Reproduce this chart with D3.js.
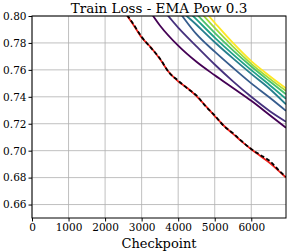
<!DOCTYPE html>
<html>
<head>
  <meta charset="utf-8">
  <title>Train Loss - EMA Pow 0.3</title>
<script src="https://d3js.org/d3.v7.min.js"></script>
  <style>
    body { margin: 0; background: #fff; }
    svg { font-family: "DejaVu Serif", serif; }
    .grid line { stroke: #b0b0b0; stroke-width: 0.8px; }
    .axis path, .axis line { stroke: #000; }
    .axis text { font-size: 10.5px; fill: #000; font-family: "DejaVu Serif", serif; }
  </style>
</head>
<body>
  <script>
    // checkpoints shared by every series
    const checkpoints = [2500, 2750, 3000, 3250, 3500, 3750, 4000, 4250, 4500, 4750,
                         5000, 5250, 5500, 5750, 6000, 6250, 6500, 6750, 6950];
    const redLoss   = [0.8040, 0.7945, 0.7840, 0.7768, 0.7680, 0.7582, 0.7515, 0.7465, 0.7405, 0.7333,
                       0.7257, 0.7185, 0.7125, 0.7065, 0.7010, 0.6960, 0.6910, 0.6850, 0.6800];
    const blackLoss = [0.8045, 0.7950, 0.7845, 0.7765, 0.7685, 0.7580, 0.7520, 0.7462, 0.7410, 0.7330,
                       0.7262, 0.7183, 0.7130, 0.7068, 0.7012, 0.6968, 0.6925, 0.6855, 0.6805];

    // viridis sweep, coarser checkpoints
    const sweepSteps = [3000, 3500, 4000, 4500, 5000, 5500, 6000, 6500, 6950];
    const sweepColors = ["#440154", "#46327e", "#365c8d", "#277f8e", "#1fa187", "#4ac16d", "#a0da39", "#fde725"];
    const sweep0 = [0.8130, 0.7930, 0.7780, 0.7660, 0.7560, 0.7465, 0.7370, 0.7265, 0.7170];
    const sweep1 = [0.8240, 0.8075, 0.7914, 0.7775, 0.7640, 0.7515, 0.7400, 0.7295, 0.7215];
    const sweep2 = [0.8400, 0.8220, 0.8040, 0.7865, 0.7735, 0.7615, 0.7500, 0.7395, 0.7296];
    const sweep3 = [0.8450, 0.8260, 0.8065, 0.7935, 0.7805, 0.7685, 0.7570, 0.7460, 0.7344];
    const sweep4 = [0.8500, 0.8300, 0.8110, 0.7975, 0.7840, 0.7715, 0.7598, 0.7488, 0.7385];
    const sweep5 = [0.8550, 0.8350, 0.8160, 0.8015, 0.7875, 0.7745, 0.7625, 0.7515, 0.7419];
    const sweep6 = [0.8600, 0.8400, 0.8210, 0.8060, 0.7912, 0.7773, 0.7645, 0.7535, 0.7444];
    const sweep7 = [0.8650, 0.8450, 0.8260, 0.8105, 0.7950, 0.7800, 0.7665, 0.7555, 0.7463];
    const sweeps = [sweep0, sweep1, sweep2, sweep3, sweep4, sweep5, sweep6, sweep7];

    const xTicks = [0, 1000, 2000, 3000, 4000, 5000, 6000];
    const yTicks = [0.66, 0.68, 0.70, 0.72, 0.74, 0.76, 0.78, 0.80];

    const margin = { top: 16, right: 3, bottom: 34, left: 32 };
    const width = 289 - margin.left - margin.right;
    const height = 252 - margin.top - margin.bottom;

    const x = d3.scaleLinear().domain([0, 6950]).range([0, width]);
    const y = d3.scaleLinear().domain([0.65, 0.80]).range([height, 0]);

    const svg = d3.select("body").append("svg")
        .attr("width", 289)
        .attr("height", 252);

    svg.append("text")
        .attr("x", margin.left + width / 2)
        .attr("y", 13)
        .attr("text-anchor", "middle")
        .style("font-size", "13.5px")
        .text("Train Loss - EMA Pow 0.3");

    const g = svg.append("g")
        .attr("transform", "translate(" + margin.left + "," + margin.top + ")");

    g.append("clipPath").attr("id", "clip")
      .append("rect").attr("width", width).attr("height", height);

    // grid
    const grid = g.append("g").attr("class", "grid");
    grid.selectAll(".vx").data(xTicks).enter().append("line")
        .attr("x1", d => x(d)).attr("x2", d => x(d))
        .attr("y1", 0).attr("y2", height);
    grid.selectAll(".hy").data(yTicks).enter().append("line")
        .attr("x1", 0).attr("x2", width)
        .attr("y1", d => y(d)).attr("y2", d => y(d));

    const plot = g.append("g").attr("clip-path", "url(#clip)");

    sweeps.forEach((s, i) => {
      plot.append("path")
          .datum(s)
          .attr("fill", "none")
          .attr("stroke", sweepColors[i])
          .attr("stroke-width", 1.8)
          .attr("d", d3.line()
              .curve(d3.curveMonotoneX)
              .x((d, j) => x(sweepSteps[j]))
              .y(d => y(d)));
    });

    const lossLine = d3.line()
        .curve(d3.curveMonotoneX)
        .x((d, j) => x(checkpoints[j]))
        .y(d => y(d));

    plot.append("path")
        .datum(redLoss)
        .attr("fill", "none")
        .attr("stroke", "#f0201a")
        .attr("stroke-width", 1.8)
        .attr("d", lossLine);

    plot.append("path")
        .datum(blackLoss)
        .attr("fill", "none")
        .attr("stroke", "#000")
        .attr("stroke-width", 1.8)
        .attr("stroke-dasharray", "4,2.5")
        .attr("d", lossLine);

    // frame
    g.append("rect")
        .attr("width", width).attr("height", height)
        .attr("fill", "none").attr("stroke", "#000").attr("stroke-width", 1);

    g.append("g").attr("class", "axis")
        .attr("transform", "translate(0," + height + ")")
        .call(d3.axisBottom(x).tickValues(xTicks).tickSize(3.5).tickPadding(2).tickFormat(d3.format("d")))
        .call(a => a.select(".domain").remove());

    g.append("g").attr("class", "axis")
        .call(d3.axisLeft(y).tickValues(yTicks).tickSize(3.5).tickPadding(2).tickFormat(d3.format(".2f")))
        .call(a => a.select(".domain").remove());

    svg.append("text")
        .attr("x", margin.left + width / 2)
        .attr("y", 248)
        .attr("text-anchor", "middle")
        .style("font-size", "13px")
        .text("Checkpoint");
  </script>
</body>
</html>
